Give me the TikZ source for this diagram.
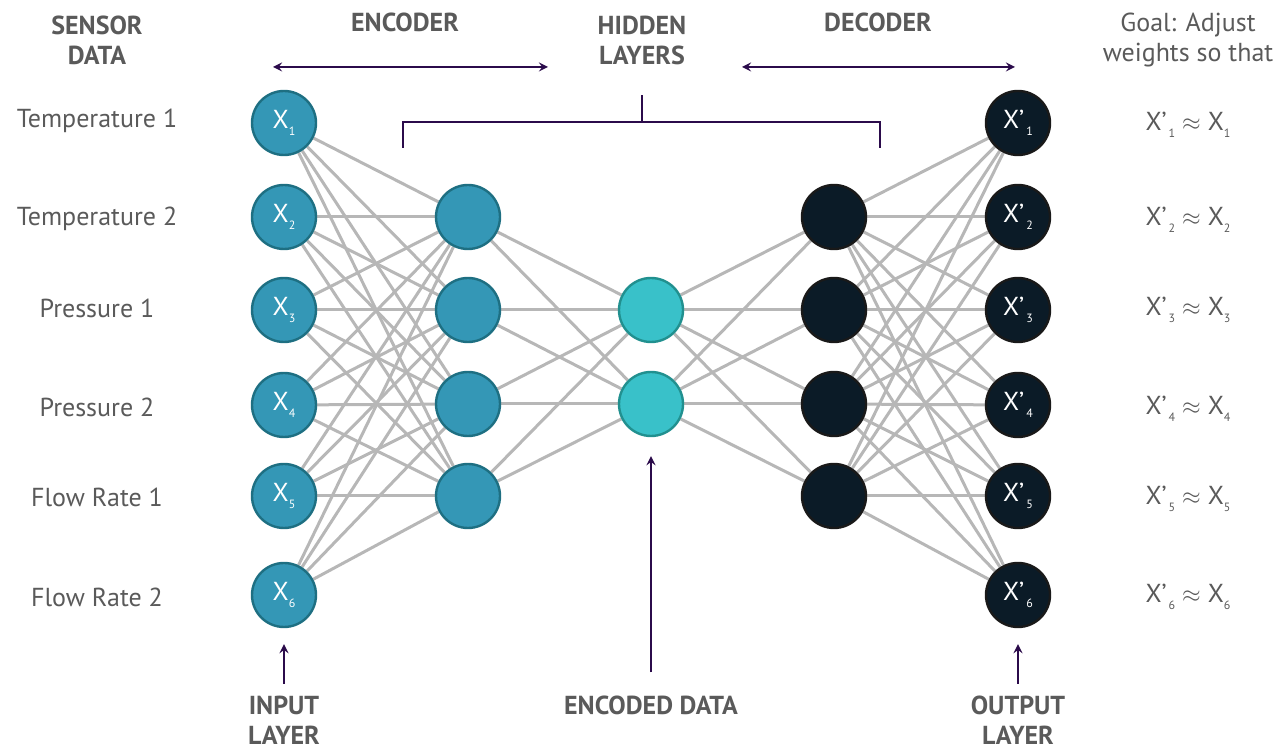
\documentclass[tikz,border=0pt]{standalone}
\usepackage{fontspec}
\setmainfont{PT Sans}
\usetikzlibrary{arrows,backgrounds}
\definecolor{inblue}{HTML}{3497B6}
\definecolor{inedge}{HTML}{1E6F82}
\definecolor{codecyan}{HTML}{39C1C9}
\definecolor{codeedge}{HTML}{21908F}
\definecolor{outdark}{HTML}{0B1B27}
\definecolor{wire}{HTML}{B7B7B7}
\definecolor{pointer}{HTML}{2B0B4B}
\definecolor{caption}{HTML}{5A5A5A}
\newcommand{\idx}[1]{\raisebox{-0.5ex}{\fontsize{6}{6}\selectfont #1}}

\begin{document}
\begin{tikzpicture}[x=0.5pt,y=-0.5pt]
  \tikzstyle{Neuron}=[circle,minimum size=32pt,inner sep=0pt,line width=1.2pt,text=white,font=\fontsize{13}{13}\selectfont]
  \tikzstyle{InStyle}=[Neuron,fill=inblue,draw=inedge]
  \tikzstyle{CodeStyle}=[Neuron,fill=codecyan,draw=codeedge]
  \tikzstyle{OutStyle}=[Neuron,fill=outdark,draw=black!90]
  \tikzstyle{Wire}=[wire,line width=1.5pt]
  \tikzstyle{Pointer}=[pointer,line width=1pt,-stealth]
  \tikzstyle{Head}=[caption,font=\bfseries\fontsize{13}{15}\selectfont,align=center]
  \tikzstyle{Label}=[caption,font=\fontsize{13}{15}\selectfont,align=center]
  \useasboundingbox (0,0) rectangle (1287,747);
  % input layer
  \node[InStyle] (X1) at (284,123) {X\idx{1}};
  \node[InStyle] (X2) at (284,217) {X\idx{2}};
  \node[InStyle] (X3) at (284,310) {X\idx{3}};
  \node[InStyle] (X4) at (284,405) {X\idx{4}};
  \node[InStyle] (X5) at (284,496) {X\idx{5}};
  \node[InStyle] (X6) at (284,595) {X\idx{6}};
  % hidden layers
  \node[InStyle] (H1) at (468,217) {};
  \node[InStyle] (H2) at (468,310) {};
  \node[InStyle] (H3) at (468,404) {};
  \node[InStyle] (H4) at (468,496) {};
  \node[CodeStyle] (C1) at (651,310) {};
  \node[CodeStyle] (C2) at (651,404) {};
  \node[OutStyle] (D1) at (834,217) {};
  \node[OutStyle] (D2) at (834,310) {};
  \node[OutStyle] (D3) at (834,404) {};
  \node[OutStyle] (D4) at (834,496) {};
  % output layer
  \node[OutStyle] (Y1) at (1018,123) {X\textquoteright\kern1pt\idx{1}};
  \node[OutStyle] (Y2) at (1018,217) {X\textquoteright\kern1pt\idx{2}};
  \node[OutStyle] (Y3) at (1018,310) {X\textquoteright\kern1pt\idx{3}};
  \node[OutStyle] (Y4) at (1018,405) {X\textquoteright\kern1pt\idx{4}};
  \node[OutStyle] (Y5) at (1018,496) {X\textquoteright\kern1pt\idx{5}};
  \node[OutStyle] (Y6) at (1018,595) {X\textquoteright\kern1pt\idx{6}};
  \begin{pgfonlayer}{background}
    \foreach \i in {1,...,6}
      \foreach \j in {1,...,4}
        {\draw[Wire] (X\i) -- (H\j);
         \draw[Wire] (D\j) -- (Y\i);}
    \foreach \j in {1,...,4}
      \foreach \k in {1,2}
        {\draw[Wire] (H\j) -- (C\k);
         \draw[Wire] (C\k) -- (D\j);}
  \end{pgfonlayer}
  % sensor names
  \node[Label] (S1) at (97,121) {Temperature 1};
  \node[Label] (S2) at (97,219) {Temperature 2};
  \node[Label] (S3) at (97,308) {Pressure 1};
  \node[Label] (S4) at (97,407) {Pressure 2};
  \node[Label] (S5) at (97,497) {Flow Rate 1};
  \node[Label] (S6) at (97,597) {Flow Rate 2};
  % goal column
  \node[Label] (G1) at (1188,125) {X\textquoteright\kern1pt\idx{1} $\approx$ X\idx{1}};
  \node[Label] (G2) at (1188,220) {X\textquoteright\kern1pt\idx{2} $\approx$ X\idx{2}};
  \node[Label] (G3) at (1188,310) {X\textquoteright\kern1pt\idx{3} $\approx$ X\idx{3}};
  \node[Label] (G4) at (1188,409) {X\textquoteright\kern1pt\idx{4} $\approx$ X\idx{4}};
  \node[Label] (G5) at (1188,499) {X\textquoteright\kern1pt\idx{5} $\approx$ X\idx{5}};
  \node[Label] (G6) at (1188,597) {X\textquoteright\kern1pt\idx{6} $\approx$ X\idx{6}};
  % headings
  \node[Head] (sensor) at (97,40) {SENSOR\\DATA};
  \node[Head] (enc) at (405,22) {ENCODER};
  \node[Head] (hidden) at (642,40) {HIDDEN\\LAYERS};
  \node[Head] (dec) at (878,22) {DECODER};
  \node[Label] (goal) at (1188,40) {Goal: Adjust\\weights so that};
  \node[Head] (inlayer) at (284,720) {INPUT\\LAYER};
  \node[Head] (code) at (651,705) {ENCODED DATA};
  \node[Head] (outlayer) at (1018,720) {OUTPUT\\LAYER};
  % arrows and bracket
  \coordinate (encL) at (273,67);
  \coordinate (encR) at (548,67);
  \coordinate (decL) at (742,67);
  \coordinate (decR) at (1015,67);
  \draw[Pointer,stealth-stealth] (encL) -- (encR);
  \draw[Pointer,stealth-stealth] (decL) -- (decR);
  \coordinate (brL) at (403,148);
  \coordinate (brM) at (642,122);
  \coordinate (brR) at (880,148);
  \coordinate (brT) at (642,95);
  \draw[pointer,line width=1pt] (brL) |- (brM) -| (brR);
  \draw[pointer,line width=1pt] (brM) -- (brT);
  \draw[Pointer,shorten <=2.5pt,shorten >=8pt] (inlayer) -- (X6);
  \draw[Pointer,shorten <=8pt,shorten >=9.5pt] (code) -- (C2);
  \draw[Pointer,shorten <=2.5pt,shorten >=8pt] (outlayer) -- (Y6);
\end{tikzpicture}
\end{document}
